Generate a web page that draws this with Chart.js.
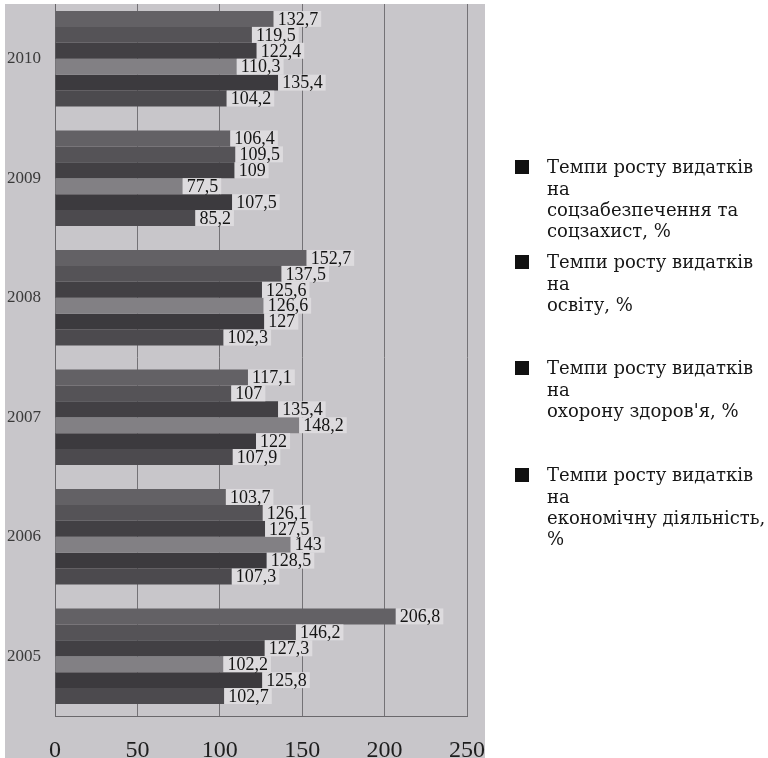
<!DOCTYPE html>
<html>
<head>
<meta charset="utf-8">
<script src="https://cdn.jsdelivr.net/npm/chart.js@4"></script>
<style>
  html, body { margin: 0; padding: 0; background: #fff; width: 768px; height: 758px; overflow: hidden; }
  #plate { position: absolute; left: 5px; top: 4px; width: 480px; height: 754px; overflow: hidden; background: #c8c6ca; filter: blur(0.4px); }
  #wrap { position: absolute; left: -5px; top: -14px; width: 490px; height: 772px; }
  #legend { position: absolute; left: 0; top: 0; width: 768px; height: 758px; font-family: "DejaVu Serif", serif; font-size: 18px; color: #161616; }
  .item { position: absolute; left: 547px; line-height: 21.3px; white-space: nowrap; }
  .mark { position: absolute; left: 515px; width: 14px; height: 14px; background: #111; }
</style>
</head>
<body>
<div id="plate"><div id="wrap"><canvas id="chart"></canvas></div></div>
<div id="legend"></div>
<script>
// Years, top to bottom
const years = ['2010', '2009', '2008', '2007', '2006', '2005'];
const xTicks = [0, 50, 100, 150, 200, 250];

// Growth rates of expenditures, %, one array per bar row (top row of each group first)
const row1 = [132.7, 106.4, 152.7, 117.1, 103.7, 206.8];
const row2 = [119.5, 109.5, 137.5, 107.0, 126.1, 146.2];
const row3 = [122.4, 109.0, 125.6, 135.4, 127.5, 127.3];
const row4 = [110.3, 77.5, 126.6, 148.2, 143.0, 102.2];
const row5 = [135.4, 107.5, 127.0, 122.0, 128.5, 125.8];
const row6 = [104.2, 85.2, 102.3, 107.9, 107.3, 102.7];

// Legend entries (each entry split into its printed lines)
const legendEntries = [
  ['Темпи росту видатків', 'на', 'соцзабезпечення та', 'соцзахист, %'],
  ['Темпи росту видатків', 'на', 'освіту, %'],
  ['Темпи росту видатків', 'на', "охорону здоров'я, %"],
  ['Темпи росту видатків', 'на', 'економічну діяльність,', '%']
];

const rows = [row1, row2, row3, row4, row5, row6];
const palette = ['#636165', '#555357', '#424044', '#828084', '#3c3a3e', '#4c4a4e'];
const serif = '"Liberation Serif", "Times New Roman", serif';

// Keep the plot area fixed: drop the extra room scales reserve for overhanging tick labels
function fixedSize(prop, size) {
  return s => {
    s[prop] = size;
    s.paddingTop = s.paddingBottom = s.paddingLeft = s.paddingRight = 0;
  };
}

// Value labels at the end of each bar, on a pale box
const valueLabels = {
  id: 'valueLabels',
  afterDatasetsDraw(chart) {
    const ctx = chart.ctx;
    ctx.save();
    ctx.font = '18px ' + serif;
    const items = [];
    chart.data.datasets.forEach((ds, i) => {
      chart.getDatasetMeta(i).data.forEach((bar, j) => {
        const txt = String(ds.data[j]).replace('.', ',');
        items.push({ x: bar.x, y: bar.y, h: bar.height, txt, w: ctx.measureText(txt).width });
      });
    });
    ctx.fillStyle = '#dddbde';
    items.forEach(it => ctx.fillRect(it.x, it.y - it.h / 2, it.w + 7, it.h));
    ctx.fillStyle = '#141414';
    ctx.textAlign = 'left';
    ctx.textBaseline = 'middle';
    items.forEach(it => ctx.fillText(it.txt, it.x + 4, it.y + 1));
    ctx.restore();
  }
};

new Chart(document.getElementById('chart'), {
  type: 'bar',
  data: {
    labels: years,
    datasets: rows.map((data, i) => ({
      label: legendEntries[i] ? legendEntries[i].join(' ') : '',
      data,
      backgroundColor: palette[i],
      borderWidth: 0,
      barPercentage: 1,
      categoryPercentage: 0.8
    }))
  },
  options: {
    indexAxis: 'y',
    responsive: true,
    maintainAspectRatio: false,
    animation: false,
    layout: { padding: { left: 0, top: 9, right: 23, bottom: 0 } },
    plugins: { legend: { display: false }, tooltip: { enabled: false } },
    scales: {
      x: {
        min: 0, max: 250,
        afterBuildTicks: s => { s.ticks = xTicks.map(v => ({ value: v })); },
        afterFit: fixedSize('height', 46),
        grid: { color: '#747276', lineWidth: 1, drawTicks: false },
        border: { color: '#6a686c', width: 1 },
        ticks: { padding: 20, color: '#1e1e1e', font: { family: serif, size: 24, lineHeight: 1.2 } }
      },
      y: {
        afterFit: fixedSize('width', 55),
        grid: { display: false, drawTicks: false },
        border: { color: '#6a686c', width: 1 },
        ticks: { padding: 14, color: '#3a3a3a', font: { family: serif, size: 17 } }
      }
    }
  },
  plugins: [valueLabels]
});

// Legend on the right
const legend = document.getElementById('legend');
const firstLineCenters = [167, 262, 368, 475];
legendEntries.forEach((lines, i) => {
  const c = firstLineCenters[i];
  const mark = document.createElement('div');
  mark.className = 'mark';
  mark.style.top = (c - 7) + 'px';
  legend.appendChild(mark);
  const item = document.createElement('div');
  item.className = 'item';
  item.style.top = (c - 10.65) + 'px';
  item.innerHTML = lines.join('<br>');
  legend.appendChild(item);
});
</script>
</body>
</html>
